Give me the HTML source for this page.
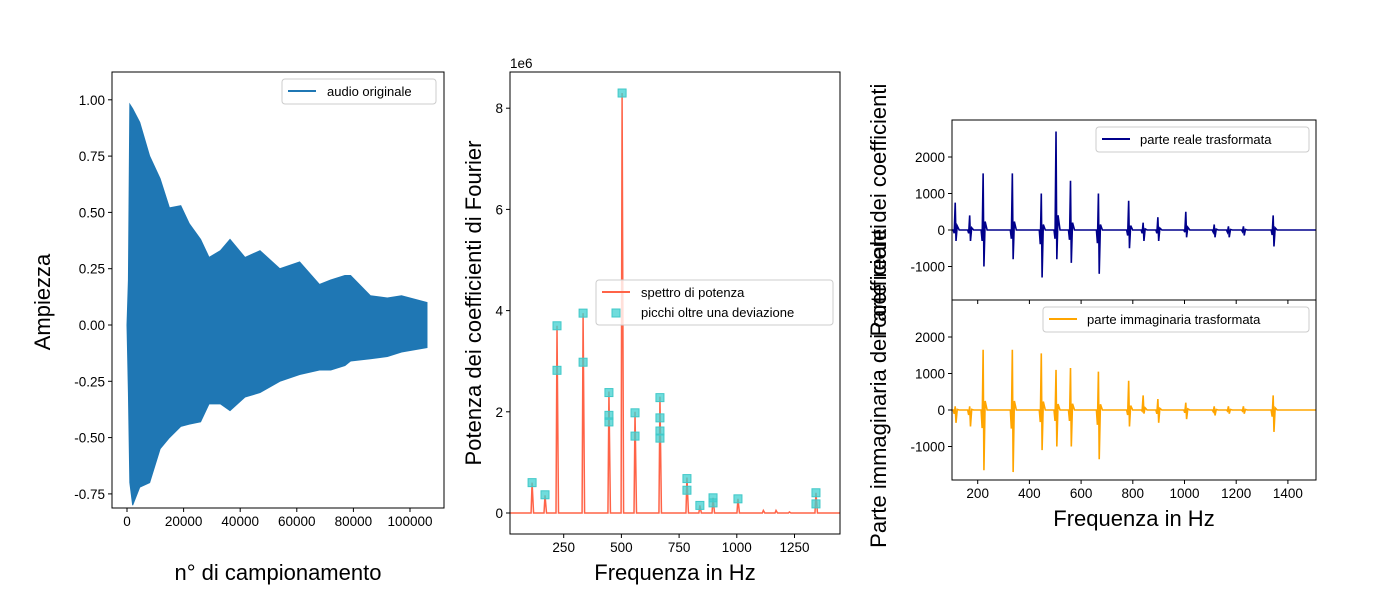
<!DOCTYPE html>
<html><head><meta charset="utf-8"><style>
body{margin:0;background:#fff;}
svg{display:block;font-family:"Liberation Sans","DejaVu Sans",sans-serif;}
</style></head><body>
<svg id="c" width="1400" height="600"></svg>
<script>
// ---------- data ----------
const envX = [0,0.5,1,2,4.5,8,11.7,15,19,22,26,29,33,36.4,41.7,47,54,61,68,72,77,79,86,92,97,106];
const envUp = [0,0.2,0.98,0.96,0.9,0.75,0.65,0.52,0.53,0.45,0.38,0.3,0.33,0.38,0.3,0.33,0.25,0.28,0.18,0.2,0.22,0.22,0.13,0.12,0.13,0.1];
const envLo = [0,-0.3,-0.7,-0.8,-0.72,-0.7,-0.55,-0.5,-0.45,-0.44,-0.43,-0.35,-0.35,-0.38,-0.32,-0.3,-0.25,-0.22,-0.2,-0.2,-0.18,-0.16,-0.15,-0.14,-0.12,-0.1];
const peakF = [113,169,221,334,446,503,559,667,784,840,897,1005,1115,1170,1228,1343];
const peakP = [0.6,0.35,3.7,3.95,2.4,8.3,2.0,2.3,0.7,0.15,0.3,0.28,0.05,0.05,0.02,0.4];
const markF = [113,169,221,221,334,334,446,446,446,503,559,559,667,667,667,667,784,784,840,897,897,1005,1343,1343];
const markP = [0.6,0.36,3.7,2.82,3.95,2.98,2.38,1.93,1.8,8.3,1.98,1.52,2.28,1.88,1.62,1.48,0.68,0.45,0.15,0.3,0.2,0.28,0.4,0.18];
const reUp = [750,400,1550,1550,1000,2700,1350,1000,800,200,350,500,150,100,100,400];
const reLo = [-300,-300,-1000,-800,-1300,-800,-900,-1200,-500,-300,-300,-200,-200,-200,-150,-450];
const imUp = [100,100,1650,1650,1550,1100,1150,1050,800,400,300,200,100,100,100,400];
const imLo = [-350,-450,-1650,-1700,-1100,-1000,-1000,-1350,-450,-100,-350,-250,-150,-100,-100,-600];
const t1x=[0,20000,40000,60000,80000,100000], t1y=[-0.75,-0.5,-0.25,0,0.25,0.5,0.75,1.0];
const t2x=[250,500,750,1000,1250], t2y=[0,2,4,6,8];
const t3x=[200,400,600,800,1000,1200,1400], t3y=[-1000,0,1000,2000];
// ---------- helpers ----------
const S=document.getElementById('c'), NS='http://www.w3.org/2000/svg';
const TF=13.5, LF=22;
function mk(t,a,p){const e=document.createElementNS(NS,t);for(const k in a)e.setAttribute(k,a[k]);(p||S).appendChild(e);return e;}
function txt(x,y,s,size,anchor,extra){const e=mk('text',Object.assign({x:x,y:y,'font-size':size,'text-anchor':anchor||'middle',fill:'#000'},extra||{}));e.textContent=s;return e;}
function axes(x0,y0,x1,y1,name){const r=mk('rect',{x:x0,y:y0,width:x1-x0,height:y1-y0,fill:'none',stroke:'#000','stroke-width':1});}
function xt(px,y,lab){mk('line',{x1:px,y1:y,x2:px,y2:y+4,stroke:'#000'});const t=txt(px,y+18,lab,TF);}
function yt(py,x,lab){mk('line',{x1:x,y1:py,x2:x-4,y2:py,stroke:'#000'});const t=txt(x-7,py+5,lab,TF,'end');}
// ---------- panel 1 ----------
const X1=v=>127+v*0.00283, Y1=v=>325-v*225.2;
let d='';envX.forEach((v,i)=>{d+=(i?'L':'M')+X1(v*1000)+','+Y1(envUp[i]);});
for(let i=envX.length-1;i>=0;i--)d+='L'+X1(envX[i]*1000)+','+Y1(envLo[i]);
const w=mk('path',{d:d+'Z',fill:'#1f77b4',stroke:'#1f77b4','stroke-width':1});

axes(112,72,444,508,'audio-axes');
t1x.forEach(v=>xt(X1(v),508,String(v)));
t1y.forEach(v=>yt(Y1(v),112,v.toFixed(2)));
let l=txt(278,580,'n° di campionamento',LF);
l=txt(0,0,'Ampiezza',LF,'middle',{transform:'translate(50,302) rotate(-90)'});
let g=mk('g',{});
mk('rect',{x:282,y:79,width:154,height:25,fill:'#fff',stroke:'#ccc',rx:3},g);
mk('line',{x1:288,y1:91,x2:316,y2:91,stroke:'#1f77b4','stroke-width':2},g);
g.appendChild(txt(327,96,'audio originale',13,'start'));
// ---------- panel 2 ----------
const X2=v=>506+v*0.2308, Y2=v=>513-v*50.6;
d='M510,'+Y2(0);peakF.forEach((f,i)=>{d+='L'+(X2(f)-1)+','+Y2(0)+'L'+X2(f)+','+Y2(peakP[i])+'L'+(X2(f)+1.5)+','+Y2(0);});d+='L840,'+Y2(0);
const sp=mk('path',{d:d,fill:'none',stroke:'#ff6347','stroke-width':1.5});

markF.forEach((f,i)=>{const m=mk('rect',{x:X2(f)-4,y:Y2(markP[i])-4,width:8,height:8,fill:'#40d0d0','fill-opacity':0.75,stroke:'#40c8c8'});});
axes(510,72,840,534,'spectrum-axes');
t2x.forEach(v=>xt(X2(v),534,String(v)));
t2y.forEach(v=>yt(Y2(v),510,String(v)));
txt(510,68,'1e6',13.5,'start');
l=txt(675,580,'Frequenza in Hz',LF);
l=txt(0,0,'Potenza dei coefficienti di Fourier',LF,'middle',{transform:'translate(481,303) rotate(-90)'});
g=mk('g',{});
mk('rect',{x:596,y:280,width:237,height:45,fill:'#fff','fill-opacity':0.8,stroke:'#ccc',rx:3},g);
mk('line',{x1:602,y1:292,x2:630,y2:292,stroke:'#ff6347','stroke-width':2},g);
g.appendChild(txt(641,297,'spettro di potenza',13,'start'));
mk('rect',{x:612,y:309,width:8,height:8,fill:'#40d0d0','fill-opacity':0.75,stroke:'#40c8c8'},g);
g.appendChild(txt(641,317,'picchi oltre una deviazione',13,'start'));
// ---------- panel 3 ----------
const X3=v=>926+v*0.2585;
function spikes(up,lo,Yf,col,name){let d='M952,'+Yf(0);peakF.forEach((f,i)=>{const x=X3(f);d+='L'+(x-2)+','+Yf(0)+'L'+(x-1)+','+Yf(lo[i]*0.3)+'L'+x+','+Yf(up[i])+'L'+(x+0.8)+','+Yf(lo[i])+'L'+(x+2)+','+Yf(up[i]*0.15)+'L'+(x+4)+','+Yf(0);});d+='L1316,'+Yf(0);const p=mk('path',{d:d,fill:'none',stroke:col,'stroke-width':1.6});}
const Yt=v=>230-v*0.0365, Yb=v=>410-v*0.0365;
spikes(reUp,reLo,Yt,'#00008b','real-part-line');
spikes(imUp,imLo,Yb,'#ffa500','imaginary-part-line');
axes(952,120,1316,300,'real-axes');axes(952,300,1316,480,'imag-axes');
t3y.forEach(v=>yt(Yt(v),952,String(v)));t3y.forEach(v=>yt(Yb(v),952,String(v)));
t3x.forEach(v=>xt(X3(v),480,String(v)));
t3x.forEach(v=>mk('line',{x1:X3(v),y1:300,x2:X3(v),y2:304,stroke:'#000'}));
l=txt(1134,526,'Frequenza in Hz',LF);
l=txt(0,0,'Parte reale dei coefficienti',LF,'middle',{transform:'translate(886,210) rotate(-90)'});
l=txt(0,0,'Parte immaginaria dei coefficienti',LF,'middle',{transform:'translate(886,386) rotate(-90)'});
g=mk('g',{});
mk('rect',{x:1096,y:127,width:213,height:25,fill:'#fff',stroke:'#ccc',rx:3},g);
mk('line',{x1:1102,y1:139,x2:1130,y2:139,stroke:'#00008b','stroke-width':2},g);
g.appendChild(txt(1140,144,'parte reale trasformata',13,'start'));
g=mk('g',{});
mk('rect',{x:1043,y:307,width:266,height:25,fill:'#fff',stroke:'#ccc',rx:3},g);
mk('line',{x1:1049,y1:319,x2:1077,y2:319,stroke:'#ffa500','stroke-width':2},g);
g.appendChild(txt(1087,324,'parte immaginaria trasformata',13,'start'));
</script>
</body></html>
